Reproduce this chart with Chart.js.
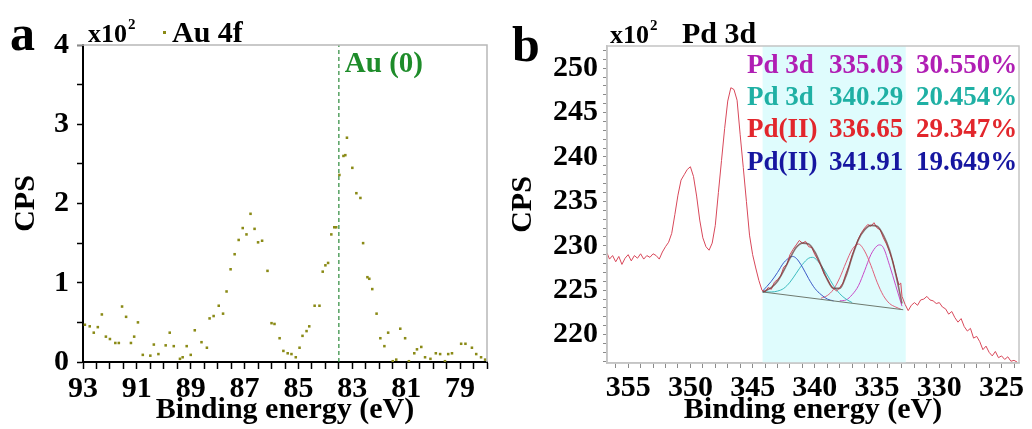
<!DOCTYPE html>
<html lang="en">
<head>
<meta charset="UTF-8">
<title>XPS – Au 4f / Pd 3d</title>
<script src="https://cdn.jsdelivr.net/npm/chart.js"></script>
<style>
  html, body { margin: 0; padding: 0; background: #fff; }
  body { width: 1032px; height: 429px; position: relative; overflow: hidden; }
  .panel { position: absolute; top: 0; height: 429px; }
  #panelA { left: 0; width: 500px; }
  #panelB { left: 500px; width: 532px; }
</style>
</head>
<body>
<div class="panel" id="panelA"><canvas id="chartA"></canvas></div>
<div class="panel" id="panelB"><canvas id="chartB"></canvas></div>
<script>
// ---- panel a: Au 4f (CPS in units of 10^2)
const auEnergy = [92.93,92.75,92.6,92.45,92.3,92.15,92.0,91.8,91.67,91.55,91.4,91.22,91.1,90.96,90.78,90.5,90.37,90.2,89.93,89.78,89.63,89.4,89.3,89.15,89.0,88.85,88.6,88.4,88.3,88.15,87.96,87.8,87.67,87.52,87.37,87.22,87.07,86.93,86.78,86.63,86.5,86.35,86.15,86.0,85.89,85.7,85.56,85.4,85.26,85.1,84.96,84.85,84.7,84.6,84.4,84.22,84.1,84.0,83.9,83.78,83.67,83.6,83.48,83.33,83.26,83.2,83.0,82.85,82.7,82.6,82.44,82.37,82.26,82.1,81.96,81.81,81.67,81.5,81.37,81.22,81.04,80.9,80.7,80.6,80.44,80.3,80.1,79.9,79.74,79.56,79.44,79.3,78.96,78.8,78.56,78.4,78.22,78.07];
const auCps = [0.47,0.45,0.37,0.44,0.60,0.32,0.29,0.24,0.24,0.70,0.57,0.24,0.32,0.50,0.09,0.08,0.22,0.10,0.21,0.37,0.20,0.04,0.06,0.20,0.09,0.40,0.25,0.18,0.55,0.58,0.71,0.61,0.89,1.17,1.36,1.54,1.69,1.61,1.87,1.68,1.51,1.53,1.15,0.49,0.48,0.30,0.14,0.11,0.10,0.06,0.18,0.33,0.39,0.45,0.71,0.71,1.14,1.22,1.25,1.61,1.70,1.70,2.36,2.60,2.61,2.83,2.45,2.13,2.07,1.50,1.07,1.05,0.92,0.61,0.30,0.20,0.37,0.01,0.03,0.42,0.30,0.01,0.11,0.16,0.19,0.06,0.04,0.11,0.10,0.01,0.10,0.11,0.23,0.23,0.18,0.10,0.06,0.03];
const au0Energy = 83.5;
const auTicks = [93, 91, 89, 87, 85, 83, 81, 79];

// ---- panel b: Pd 3d (CPS in units of 10^2)
const pdEnergy = [356.7,356.5,356.25,356.0,355.75,355.5,355.25,355.0,354.75,354.5,354.25,354.0,353.75,353.5,353.25,353.0,352.75,352.5,352.25,352.0,351.75,351.5,351.25,351.0,350.75,350.5,350.25,350.0,349.75,349.5,349.25,349.0,348.75,348.5,348.25,348.0,347.75,347.5,347.25,347.0,346.75,346.5,346.25,346.0,345.75,345.5,345.25,345.0,344.75,344.5,344.25,344.0,343.75,343.5,343.25,343.0,342.75,342.5,342.25,342.0,341.75,341.5,341.25,341.0,340.75,340.5,340.25,340.0,339.75,339.5,339.25,339.0,338.75,338.5,338.25,338.0,337.75,337.5,337.25,337.0,336.75,336.5,336.25,336.0,335.75,335.5,335.25,335.0,334.75,334.5,334.25,334.0,333.75,333.5,333.25,333.1,333.0,332.75,332.5,332.25,332.0,331.75,331.5,331.25,331.0,330.75,330.5,330.25,330.0,329.75,329.5,329.25,329.0,328.75,328.5,328.25,328.0,327.75,327.5,327.25,327.0,326.75,326.5,326.25,326.0,325.75,325.5,325.25,325.0,324.75,324.5,324.25,324.0,323.75];
const pdCps = [229.2,228.5,228.9,228.2,228.8,227.9,228.6,229.0,228.3,228.9,228.6,229.1,228.5,228.9,228.7,229.1,228.9,228.5,229.3,229.9,230.4,231.4,233.5,235.7,237.4,238.0,238.6,238.9,237.8,235.6,232.9,230.9,229.9,229.5,230.3,232.3,236.0,239.6,243.2,246.3,247.8,247.6,246.4,242.5,238.8,235.0,231.2,229.0,227.5,226.1,225.0,224.8,225.3,225.1,225.9,226.2,226.6,227.6,227.9,229.0,229.6,230.1,230.6,230.3,230.5,229.9,229.8,229.0,228.4,227.7,226.8,226.3,225.6,225.2,224.9,225.3,225.8,226.9,227.8,229.0,229.9,230.8,231.5,232.0,232.4,232.2,232.6,232.0,231.8,230.9,230.2,229.3,228.3,226.9,225.6,225.8,224.3,223.4,222.7,223.3,223.6,223.3,223.9,224.0,224.3,223.9,223.8,223.5,223.6,223.1,222.9,222.3,222.6,221.9,221.4,221.8,220.9,220.4,220.7,219.6,219.8,219.2,218.3,218.7,218.0,217.6,218.1,217.4,217.6,217.2,217.5,217.0,217.1,216.9];

const envEnergy = [344.2,343.5,343,342.5,342,341.5,341,340.5,340,339.5,339,338.5,338,337.5,337,336.5,336,335.5,335,334.5,334,333.5,333];
const envCps = [224.8,225.3,226.0,227.2,228.6,229.8,230.3,230.2,229.3,227.8,226.2,225.2,225.2,226.6,228.8,230.7,231.8,232.3,232.2,231.2,229.5,226.8,223.5];
const baseEnergy = [344.2, 332.9];
const baseCps = [224.8, 222.8];
const blueEnergy = [344.2,343.5,343,342.5,342,341.8,341.5,341,340.5,340,339.5,339,338.5];
const blueCps = [224.9,226.0,227.0,228.1,228.7,228.8,228.6,227.6,226.3,225.2,224.5,224.0,223.8];
const cyanEnergy = [344.2,343.5,343,342.5,342,341.5,341,340.5,340.2,340,339.5,339,338.5,338,337.5,337];
const cyanCps = [224.8,224.8,224.9,225.2,225.9,226.9,227.9,228.6,228.7,228.6,227.8,226.7,225.5,224.6,224.0,223.6];
const redEnergy = [339.5,339,338.5,338,337.5,337,336.5,336,335.5,335,334.5,334,333.5,333];
const redCps = [224.1,224.4,225.1,226.4,228.1,229.6,230.2,229.4,227.8,225.9,224.4,223.5,223.1,222.8];
const magEnergy = [338,337.5,337,336.5,336,335.5,335,334.8,334.5,334,333.5,333];
const magCps = [223.8,223.9,224.5,225.5,227.2,229.0,230.0,230.1,229.8,227.8,225.5,223.2];
const fitRange = [344.2, 332.7];

const fitNames = ['Pd 3d', 'Pd 3d', 'Pd(II)', 'Pd(II)'];
const fitPeaks = ['335.03', '340.29', '336.65', '341.91'];
const fitShares = ['30.550%', '20.454%', '29.347%', '19.649%'];
const fitColors = ['#b01eb4', '#1fb0a4', '#e2262c', '#1616a0'];

const serif = "'Liberation Serif', 'Times New Roman', serif";
const auColor = '#8a8a16';
Chart.defaults.font.family = serif;
Chart.defaults.color = '#000';

const pts = (xs, ys) => xs.map((x, i) => ({x, y: ys[i]}));

// plot frame + annotation text for panel a
const decorA = {
  id: 'decorA',
  afterDraw(chart) {
    const {ctx, chartArea: a, scales: {x}} = chart;
    ctx.save();
    ctx.strokeStyle = '#b8b8b8'; ctx.lineWidth = 1.5;
    ctx.beginPath(); ctx.moveTo(a.left - 6, a.top); ctx.lineTo(a.right, a.top); ctx.lineTo(a.right, a.bottom); ctx.stroke();
    ctx.fillStyle = '#000'; ctx.textBaseline = 'alphabetic';
    ctx.font = 'bold 50px ' + serif; ctx.fillText('a', 10, 50);
    ctx.font = 'bold 26px ' + serif; ctx.fillText('x10', 88, 42);
    ctx.font = 'bold 15px ' + serif; ctx.fillText('2', 128, 29);
    ctx.fillStyle = auColor; ctx.fillRect(163, 31, 3, 3);
    ctx.fillStyle = '#000'; ctx.font = 'bold 30px ' + serif; ctx.fillText('Au 4f', 172, 42);
    ctx.fillStyle = '#1e8c2a'; ctx.font = 'bold 29px ' + serif;
    ctx.fillText('Au (0)', x.getPixelForValue(au0Energy) + 6, 72);
    ctx.restore();
  }
};

// fit window shading, frame and the peak table for panel b
const decorB = {
  id: 'decorB',
  beforeDatasetsDraw(chart) {
    const {ctx, chartArea: a, scales: {x}} = chart;
    const x0 = x.getPixelForValue(fitRange[0]), x1 = x.getPixelForValue(fitRange[1]);
    ctx.save();
    ctx.fillStyle = '#dffcfd';
    ctx.fillRect(x0, a.top, x1 - x0, a.bottom - a.top);
    ctx.restore();
  },
  afterDraw(chart) {
    const {ctx, chartArea: a} = chart;
    ctx.save();
    ctx.strokeStyle = '#c4c4c4'; ctx.lineWidth = 1.5;
    ctx.strokeRect(a.left, a.top, a.right - a.left, a.bottom - a.top);
    ctx.fillStyle = '#000'; ctx.textBaseline = 'alphabetic';
    ctx.font = 'bold 50px ' + serif; ctx.fillText('b', 12, 61);
    ctx.font = 'bold 26px ' + serif; ctx.fillText('x10', 110, 43);
    ctx.font = 'bold 15px ' + serif; ctx.fillText('2', 150, 30);
    ctx.font = 'bold 30px ' + serif; ctx.fillText('Pd 3d', 182, 43);
    ctx.font = 'bold 27px ' + serif;
    const rowY = [73, 105, 137, 170];
    fitNames.forEach((n, i) => {
      ctx.fillStyle = fitColors[i];
      ctx.fillText(n, 247, rowY[i]);
      ctx.fillText(fitPeaks[i], 329, rowY[i]);
      ctx.fillText(fitShares[i], 416, rowY[i]);
    });
    ctx.restore();
  }
};

new Chart(document.getElementById('chartA'), {
  type: 'scatter',
  data: {
    datasets: [
      { data: pts(auEnergy, auCps), backgroundColor: auColor, borderColor: auColor,
        pointStyle: 'rect', pointRadius: 1.8, borderWidth: 0 },
      { data: [{x: au0Energy, y: 0}, {x: au0Energy, y: 4}], showLine: true, pointRadius: 0,
        borderColor: '#2a8a3a', borderWidth: 1.2, borderDash: [4, 3] }
    ]
  },
  options: {
    responsive: true, maintainAspectRatio: false, animation: false,
    layout: { padding: { left: 0, top: 45, right: 13, bottom: 0 } },
    plugins: { legend: { display: false }, tooltip: { enabled: false } },
    scales: {
      x: {
        type: 'linear', reverse: true, min: 78, max: 93,
        afterFit: s => { s.height = 67; },
        ticks: { stepSize: 0.5, autoSkip: false, maxRotation: 0, padding: 2,
          font: { size: 30, weight: 'bold' },
          callback: v => auTicks.includes(v) ? String(v) : '' },
        grid: { drawOnChartArea: false, tickLength: 7, tickColor: '#000', tickWidth: 1.5 },
        border: { color: '#000', width: 2 },
        title: { display: true, text: 'Binding energy (eV)', font: { size: 30, weight: 'bold' }, padding: { top: 0, bottom: 1 } }
      },
      y: {
        min: 0, max: 4,
        afterFit: s => { s.width = 83; },
        ticks: { stepSize: 0.5, padding: 8, font: { size: 30, weight: 'bold' },
          callback: v => Number.isInteger(v) ? String(v) : '' },
        grid: { drawOnChartArea: false, tickLength: 6, tickColor: '#000', tickWidth: 1.5 },
        border: { color: '#000', width: 2 },
        title: { display: true, text: 'CPS', font: { size: 30, weight: 'bold' }, padding: { top: 8, bottom: 0 } }
      }
    }
  },
  plugins: [decorA]
});

const thin = (xs, ys, color, w, tension) => ({
  data: pts(xs, ys), showLine: true, pointRadius: 0, borderColor: color,
  borderWidth: w, tension: tension, cubicInterpolationMode: tension ? 'monotone' : 'default'
});

new Chart(document.getElementById('chartB'), {
  type: 'scatter',
  data: {
    datasets: [
      thin(envEnergy, envCps, 'rgba(110,60,60,0.75)', 1.6, 0.4),
      thin(pdEnergy, pdCps, '#d8485a', 1, 0),
      thin(baseEnergy, baseCps, '#6f7a6f', 1, 0),
      thin(blueEnergy, blueCps, '#3c5ac8', 1, 0.4),
      thin(cyanEnergy, cyanCps, '#3cbcc0', 1, 0.4),
      thin(redEnergy, redCps, '#e0607a', 1, 0.4),
      thin(magEnergy, magCps, '#c84ac8', 1, 0.4)
    ]
  },
  options: {
    responsive: true, maintainAspectRatio: false, animation: false,
    layout: { padding: { left: 0, top: 46, right: 13, bottom: 0 } },
    plugins: { legend: { display: false }, tooltip: { enabled: false } },
    scales: {
      x: {
        type: 'linear', reverse: true, min: 323.6, max: 356.7,
        afterFit: s => { s.height = 66; },
        afterBuildTicks: s => { const t = []; for (let v = 324; v <= 356; v++) t.push({value: v}); s.ticks = t; },
        ticks: { autoSkip: false, maxRotation: 0, padding: 2, font: { size: 30, weight: 'bold' },
          callback: v => v % 5 === 0 ? String(v) : '' },
        grid: { drawOnChartArea: false, tickLength: 5, tickColor: '#8a8a8a', tickWidth: 1 },
        border: { color: '#c4c4c4', width: 1.5 },
        title: { display: true, text: 'Binding energy (eV)', font: { size: 30, weight: 'bold' }, padding: { top: 0, bottom: 1 } }
      },
      y: {
        min: 216.8, max: 252.5,
        afterFit: s => { s.width = 107; },
        afterBuildTicks: s => { const t = []; for (let v = 217; v <= 252; v++) t.push({value: v}); s.ticks = t; },
        ticks: { autoSkip: false, padding: 5, font: { size: 30, weight: 'bold' },
          callback: v => v % 5 === 0 ? String(v) : '' },
        grid: { drawOnChartArea: false, tickLength: 4, tickColor: '#8a8a8a', tickWidth: 1 },
        border: { color: '#c4c4c4', width: 1.5 },
        title: { display: true, text: 'CPS', font: { size: 30, weight: 'bold' }, padding: { top: 5, bottom: 0 } }
      }
    }
  },
  plugins: [decorB]
});
</script>
</body>
</html>
